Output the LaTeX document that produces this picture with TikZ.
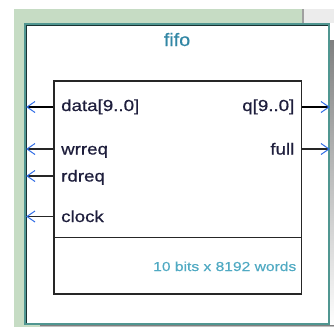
\documentclass[tikz,border=0pt]{standalone}
\usepackage{fontspec}
\newfontfamily\portfont[FakeStretch=1.17,FakeBold=0.6]{Liberation Sans}
\newfontfamily\titlefont[FakeStretch=1.1,FakeBold=0.4]{Liberation Sans}
\newfontfamily\notefont[FakeStretch=1.2,FakeBold=0.4]{Liberation Sans}
\definecolor{bggreen}{RGB}{198,220,196}
\definecolor{bggray}{RGB}{236,236,236}
\definecolor{sepgray}{RGB}{160,160,160}
\definecolor{frameteal}{RGB}{80,150,145}
\definecolor{framedark}{RGB}{25,50,50}
\definecolor{shade}{RGB}{140,165,140}
\definecolor{pinblue}{RGB}{50,110,230}
\definecolor{labelink}{RGB}{30,30,60}
\definecolor{titleink}{RGB}{50,135,165}
\definecolor{noteink}{RGB}{80,170,195}
\begin{document}
\begin{tikzpicture}[x=1pt,y=-1pt,
  portlabel/.style={inner sep=0pt, text=labelink, font=\portfont\fontsize{16}{18}\selectfont},
  busline/.style={draw=black, line width=2.6pt},
  wireline/.style={draw=black!85, line width=1.2pt},
  chevron/.style={draw=pinblue, line width=1pt}]
\useasboundingbox (0,0) rectangle (334,327);
% backgrounds
\fill[white] (0,0) rectangle (334,327);
\fill[bggray] (303,9) rectangle (334,23);
\fill[bggreen] (14,9) rectangle (302,327);
\fill[sepgray] (302,9) rectangle (304,23);
% shadow strips
\fill[shade] (330,40) rectangle (334,327);
\fill[shade] (40,325) rectangle (334,327);
% outer symbol frame
\fill[white] (24,23) rectangle (330,325);
\draw[frameteal, line width=2pt] (25,24) rectangle (329,324);
\draw[framedark, line width=1.2pt] (26.6,323) -- (26.6,25.6) -- (328,25.6);
% title
\node[inner sep=0pt, anchor=base, text=titleink, font=\titlefont\fontsize{18}{20}\selectfont] (title) at (177,46) {fifo};
% inner block
\node[draw=black!85, line width=1.5pt, minimum width=247.5pt, minimum height=213pt, inner sep=0pt, anchor=north west] (body) at (53,80) {};
\draw[black!85, line width=1.5pt] (body.west |- 0,237.5) coordinate (sepL) -- (body.east |- 0,237.5) coordinate (sepR);
\node[inner sep=0pt, anchor=base east, text=noteink, font=\notefont\fontsize{13}{15}\selectfont] (note) at (296.5,271) {10 bits x 8192 words};
% pin coordinates
\coordinate (dataIn) at (body.west |- 0,107);
\coordinate (wrIn) at (body.west |- 0,149);
\coordinate (rdIn) at (body.west |- 0,176);
\coordinate (clkIn) at (body.west |- 0,216.5);
\coordinate (qOut) at (body.east |- 0,107);
\coordinate (fullOut) at (body.east |- 0,149);
\coordinate (dataEnd) at (27,107);
\coordinate (wrEnd) at (27,149);
\coordinate (rdEnd) at (27,176);
\coordinate (clkEnd) at (27,216.5);
\coordinate (qEnd) at (329,107);
\coordinate (fullEnd) at (329,149);
% pins
\draw[busline] (dataIn) -- (dataEnd);
\draw[wireline] (wrIn) -- (wrEnd);
\draw[wireline] (rdIn) -- (rdEnd);
\draw[wireline] (clkIn) -- (clkEnd);
\draw[busline] (qOut) -- (qEnd);
\draw[wireline] (fullOut) -- (fullEnd);
% chevrons
\foreach \c in {dataEnd,wrEnd,rdEnd,clkEnd}{
  \draw[chevron] ([shift={(8,-5.5)}]\c) -- (\c) -- ([shift={(8,5.5)}]\c);
}
\foreach \c in {qEnd,fullEnd}{
  \draw[chevron] ([shift={(-8,-5.5)}]\c) -- (\c) -- ([shift={(-8,5.5)}]\c);
}
% labels
\node[portlabel, anchor=base west] (ldata) at (61,111) {data[9..0]};
\node[portlabel, anchor=base west] (lwr) at (61,154.5) {wrreq};
\node[portlabel, anchor=base west] (lrd) at (61,181.5) {rdreq};
\node[portlabel, anchor=base west] (lclk) at (61,222) {clock};
\node[portlabel, anchor=base east] (lq) at (294.5,111) {q[9..0]};
\node[portlabel, anchor=base east] (lfull) at (294.5,154.5) {full};
\end{tikzpicture}
\end{document}
